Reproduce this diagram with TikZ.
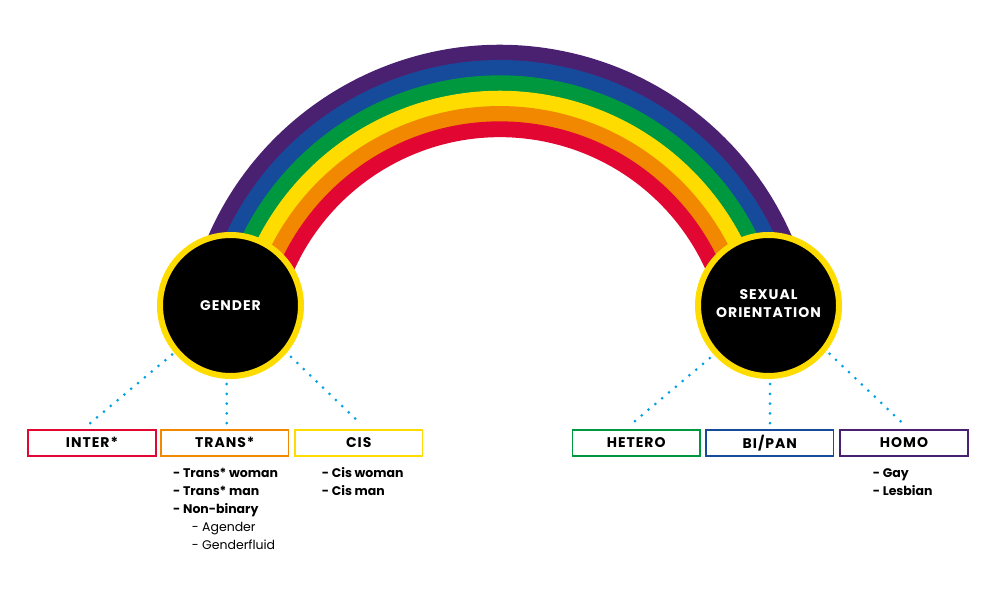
\documentclass[tikz,border=0pt]{standalone}
\usepackage{fontspec}
\setmainfont{Poppins}
\definecolor{rbpurple}{HTML}{4A2170}
\definecolor{rbblue}{HTML}{164B9C}
\definecolor{rbgreen}{HTML}{00983F}
\definecolor{rbyellow}{HTML}{FFDC00}
\definecolor{rborange}{HTML}{F18800}
\definecolor{rbred}{HTML}{E20632}
\definecolor{dotblue}{HTML}{00A0E3}
\begin{document}
\begin{tikzpicture}[x=1pt,y=1pt,
  band/.style={line width=15.8pt},
  hub/.style={circle, fill=black, draw=rbyellow, line width=6pt, minimum size=141pt, inner sep=0pt,
    text=white, align=center, font=\bfseries\fontsize{14}{18}\selectfont\addfontfeature{LetterSpace=7}},
  catbox/.style={draw, line width=1.8pt, minimum width=127.5pt, minimum height=26pt, inner sep=0pt,
    font=\bfseries\fontsize{14}{16}\selectfont\addfontfeature{LetterSpace=7}},
  dots/.style={draw=dotblue, line width=3pt, line cap=round},
  diagdots/.style={dots, dash pattern=on 0pt off 8.9pt},
  vertdots/.style={dots, dash pattern=on 0pt off 9.8pt},
  itemlist/.style={anchor=base west, align=left, inner sep=0pt, font=\bfseries\fontsize{12.5}{18}\selectfont}]
\useasboundingbox (0,0) rectangle (1000,600);
% rainbow
\foreach \r/\c in {310.3/rbpurple, 295/rbblue, 279.7/rbgreen, 264.3/rbyellow, 249/rborange, 233.7/rbred}
  \draw[band, \c] (500,237) ++(168:\r pt) arc[start angle=168, end angle=12, radius=\r pt];
% hubs
\node[hub] (gender) at (230.5,294.5) {GENDER};
\node[hub] (orient) at (768.5,294.5) {\raisebox{3pt}{SEXUAL}\\\raisebox{3pt}{ORIENTATION}};
% category boxes
\node[catbox, draw=rbred]    (inter)  at (92,157.3)    {INTER*};
\node[catbox, draw=rborange] (trans)  at (224.8,157.3) {TRANS*};
\node[catbox, draw=rbyellow] (cis)    at (358.7,157.3) {CIS};
\node[catbox, draw=rbgreen]  (hetero) at (636.2,157.3) {HETERO};
\node[catbox, draw=rbblue]   (bipan)  at (769.8,157.3) {BI/PAN};
\node[catbox, draw=rbpurple] (homo)   at (904,157.3)   {HOMO};
% dotted connectors
\draw[diagdots, shorten <=2.7pt] (gender.220) -- ([shift={(-2,5.5)}]inter.north);
\draw[vertdots, shorten <=5pt] ([xshift=-3.8pt]gender.south) -- ([shift={(1.9,5.5)}]trans.north);
\draw[diagdots, shorten <=5.8pt] (gender.320.5) -- ([shift={(1.3,5.5)}]cis.north);
\draw[diagdots, shorten <=5.3pt] (orient.222) -- ([shift={(-3.9,5.5)}]hetero.north);
\draw[vertdots, shorten <=5pt] ([xshift=1.5pt]orient.south) -- ([shift={(0.2,5.5)}]bipan.north);
\draw[diagdots, shorten <=4.4pt] (orient.322) -- ([shift={(-1.3,5.5)}]homo.north);
% lists (base anchor is the last line's baseline)
\node[itemlist] (translist) at (173,50.3) {- Trans* woman\\- Trans* man\\- Non-binary\\
  \hspace*{18.7pt}{\mdseries - Agender}\\\hspace*{18.7pt}{\mdseries - Genderfluid}};
\node[itemlist] (cislist) at (321.7,104.3) {- Cis woman\\- Cis man};
\node[itemlist] (homolist) at (872.7,104.3) {- Gay\\- Lesbian};
\end{tikzpicture}
\end{document}
